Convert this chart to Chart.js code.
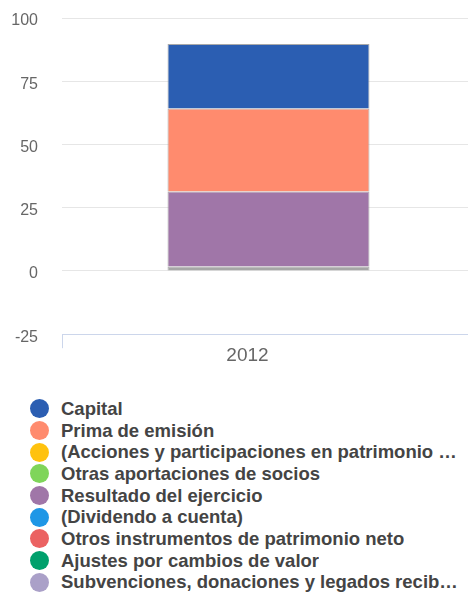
<!DOCTYPE html>
<html>
<head>
<meta charset="utf-8">
<script src="https://cdn.jsdelivr.net/npm/chart.js@4.4.0/dist/chart.umd.min.js"></script>
<style>
  html, body { margin: 0; padding: 0; background: #fff; overflow: hidden; }
  body { width: 468px; height: 593px; position: relative; font-family: "Liberation Sans", Arial, sans-serif; }
  #wrap { position: absolute; left: 0; top: 0; width: 475px; height: 363px; }
  #legend { list-style: none; margin: 0; padding: 0; position: absolute; left: 30px; top: 398px; }
  #legend li { height: 21.7px; display: flex; align-items: center; font-weight: bold; font-size: 18.5px; color: #444; white-space: nowrap; }
  #legend .dot { width: 19px; height: 19px; border-radius: 50%; margin-right: 12px; flex: none; }
  #legend .txt { overflow: hidden; text-overflow: ellipsis; max-width: 397px; }
</style>
</head>
<body>
<div id="wrap"><canvas id="chart"></canvas></div>
<ul id="legend"></ul>
<script>
// categories
const years = ["2012"];

// series (legend order)
const seriesNames = [
  "Capital",
  "Prima de emisión",
  "(Acciones y participaciones en patrimonio propias)",
  "Otras aportaciones de socios",
  "Resultado del ejercicio",
  "(Dividendo a cuenta)",
  "Otros instrumentos de patrimonio neto",
  "Ajustes por cambios de valor",
  "Subvenciones, donaciones y legados recibidos",
  "Reservas"
];
const seriesColors = [
  "#2b5eb2", "#ff8b6e", "#ffc20e", "#7fd55a", "#a076a8",
  "#1f97e6", "#eb6262", "#00a06c", "#aaa0c8", "#a6a6a6"
];

// values
const capital = [25.5];
const primaEmision = [32.8];
const accionesPropias = [0];
const otrasAportaciones = [0];
const resultadoEjercicio = [29.6];
const dividendoCuenta = [0];
const otrosInstrumentos = [0];
const ajustesValor = [0];
const subvenciones = [0];
const reservas = [1.8];

const yTicks = [-25, 0, 25, 50, 75, 100];

const seriesValues = [
  capital, primaEmision, accionesPropias, otrasAportaciones, resultadoEjercicio,
  dividendoCuenta, otrosInstrumentos, ajustesValor, subvenciones, reservas
];

// first series ends up on top of the stack, so feed them in reverse
const datasets = seriesNames.map((name, i) => ({
  label: name,
  data: seriesValues[i],
  backgroundColor: seriesColors[i],
  borderColor: "#a9a9a9",
  borderWidth: 1,
  barPercentage: 0.489,
  categoryPercentage: 1
})).reverse();

const chart = new Chart(document.getElementById("chart"), {
  type: "bar",
  data: { labels: years, datasets: datasets },
  options: {
    responsive: true,
    maintainAspectRatio: false,
    animation: false,
    layout: { padding: { top: 18, right: 0, bottom: 0, left: 0 } },
    plugins: { legend: { display: false }, tooltip: { enabled: false } },
    scales: {
      x: {
        stacked: true,
        offset: true,
        grid: { display: true, drawOnChartArea: false, tickLength: 14, color: "#ccd6eb", offset: true },
        border: { display: true, color: "#ccd6eb" },
        ticks: { color: "#666", font: { family: "Liberation Sans", size: 19 }, padding: -4, labelOffset: -21 }
      },
      y: {
        stacked: true,
        min: yTicks[0],
        max: yTicks[yTicks.length - 1],
        afterBuildTicks: (scale) => { scale.ticks = yTicks.map(v => ({ value: v })); },
        afterFit: (scale) => { scale.width = 62; },
        grid: {
          drawTicks: true,
          tickLength: 24,
          tickColor: "rgba(0,0,0,0)",
          color: (ctx) => ctx.tick && ctx.tick.value === yTicks[0] ? "#ccd6eb" : "#e6e6e6"
        },
        border: { display: false },
        ticks: { color: "#666", font: { family: "Liberation Sans", size: 16 }, padding: 0, labelOffset: 3 }
      }
    }
  }
});

// html legend, one entry per line
const legend = document.getElementById("legend");
seriesNames.forEach((name, i) => {
  const li = document.createElement("li");
  const dot = document.createElement("span");
  dot.className = "dot";
  dot.style.background = seriesColors[i];
  const txt = document.createElement("span");
  txt.className = "txt";
  txt.textContent = name;
  li.appendChild(dot);
  li.appendChild(txt);
  legend.appendChild(li);
});
</script>
</body>
</html>
